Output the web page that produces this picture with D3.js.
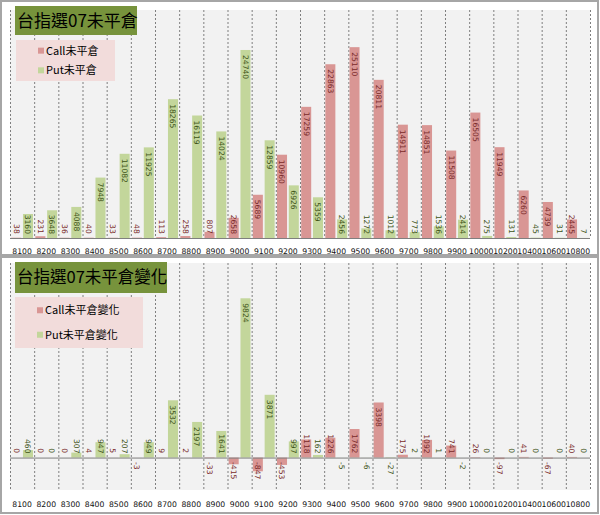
<!DOCTYPE html>
<html><head><meta charset="utf-8">
<script src="https://cdn.jsdelivr.net/npm/d3@7"></script>
<style>body{margin:0;background:#fff}svg{display:block}</style>
</head><body><svg id="c" width="600" height="515"></svg>
<script>
const categories = ["8100","8200","8300","8400","8500","8600","8700","8800","8900","9000","9100","9200","9300","9400","9500","9600","9700","9800","9900","10000","10200","10400","10600","10800"];
const callOI = [38,231,36,40,33,48,113,258,807,2658,5689,10960,17259,22863,25110,20811,14911,14851,11508,16505,11949,6260,4739,2445];
const putOI  = [3160,3648,4088,7948,11082,11925,18265,16119,14024,24740,12859,6926,5359,2456,1272,1012,773,1536,2414,275,131,45,31,7];
const callChg = [0,0,0,4,5,-3,9,2,-33,-415,-847,-453,1118,1226,1762,3398,175,1092,741,26,-97,41,-67,40];
const putChg  = [460,0,307,947,207,949,3532,2197,1641,9824,3871,997,162,-5,-6,-27,2,1,-2,0,0,0,0,0];

const CALL_COLOR = "#d99694", PUT_COLOR = "#c3d69b";
const CALL_TEXT = "#7a2a2a", PUT_TEXT = "#3f5417";
const svg = d3.select("#c");
const FONT = "'DejaVu Sans', Verdana, sans-serif";
const CJK = "'Noto Sans CJK TC', 'Noto Sans CJK SC', sans-serif";

function panel(cfg){
  const g = svg.append("g");
  // outer panel
  g.append("rect").attr("x",cfg.px).attr("y",cfg.py).attr("width",cfg.pw).attr("height",cfg.ph)
    .attr("fill","#fff").attr("stroke","#a6a6a6").attr("stroke-width",2);
  const x0 = d3.scaleBand().domain(categories).range([cfg.left,cfg.right]).padding(0);
  const x1 = d3.scaleBand().domain(["call","put"]).range([0,x0.bandwidth()]).paddingInner(0.15).paddingOuter(0.1);
  const y = d3.scaleLinear().domain(cfg.domain).range([cfg.bottom,cfg.top]);
  // plot bg
  g.append("rect").attr("x",cfg.left).attr("y",cfg.top).attr("width",cfg.right-cfg.left).attr("height",cfg.bottom-cfg.top).attr("fill","#f2f2f2");
  // dashed separators
  const seps = categories.map(c=>x0(c)).concat([cfg.right]);
  g.selectAll("line.sep").data(seps).join("line").attr("class","sep")
    .attr("x1",d=>d+0.5).attr("x2",d=>d+0.5).attr("y1",cfg.top).attr("y2",cfg.bottom)
    .attr("stroke","#7f7f7f").attr("stroke-width",1).attr("stroke-dasharray","2,2");
  const base = y(0);
  const series = [{key:"call",vals:cfg.call,color:CALL_COLOR,tc:CALL_TEXT},{key:"put",vals:cfg.put,color:PUT_COLOR,tc:PUT_TEXT}];
  series.forEach(s=>{
    g.selectAll("rect."+s.key).data(s.vals).join("rect").attr("class",s.key)
      .attr("x",(d,i)=>x0(categories[i])+x1(s.key)).attr("width",x1.bandwidth())
      .attr("y",d=>Math.min(y(d),base)).attr("height",d=>Math.abs(y(d)-base))
      .attr("fill",s.color);
  });
  // baseline
  g.append("line").attr("x1",cfg.left).attr("x2",cfg.right).attr("y1",base+0.5).attr("y2",base+0.5).attr("stroke","#7f7f7f").attr("stroke-width",1);
  // labels
  series.forEach(s=>{
    s.vals.forEach((d,i)=>{
      const cx = x0(categories[i])+x1(s.key)+x1.bandwidth()/2;
      const txt = String(d);
      const len = txt.length*4.7;
      let start;
      if (d>=0){ start = Math.min(y(d)+5, base-4.5-len); }
      else { start = Math.max(y(d)-5-len, base+4.5); }
      g.append("text").attr("transform",`translate(${cx},${start}) rotate(90)`)
        .attr("dy","0.35em").attr("font-family",FONT).attr("font-size",7.6)
        .attr("fill",s.tc).text(txt);
    });
  });
  // x axis labels
  g.selectAll("text.xl").data(categories).join("text").attr("class","xl")
    .attr("x",d=>x0(d)+x0.bandwidth()/2).attr("y",cfg.labelY).attr("text-anchor","middle")
    .attr("dy","0.35em").attr("font-family",FONT).attr("font-size",7.7).attr("fill","#111").text(d=>d);
  // title box
  g.append("rect").attr("x",cfg.tx).attr("y",cfg.ty).attr("width",cfg.tw).attr("height",cfg.th).attr("fill","#77933c");
  g.append("text").attr("x",cfg.tx+2).attr("y",cfg.ty+cfg.th/2).attr("dy","0.36em")
    .attr("font-family",CJK).attr("font-size",cfg.tfs).attr("fill","#000").text(cfg.title);
  // legend box
  g.append("rect").attr("x",cfg.lx).attr("y",cfg.ly).attr("width",cfg.lw).attr("height",cfg.lh).attr("fill","#f2dcdb");
  cfg.legend.forEach((t,i)=>{
    const yy = cfg.ly + cfg.lh*(i===0?0.26:0.74);
    g.append("rect").attr("x",cfg.lx+22).attr("y",yy-3).attr("width",6).attr("height",6).attr("fill",i===0?CALL_COLOR:PUT_COLOR);
    g.append("text").attr("x",cfg.lx+30).attr("y",yy).attr("dy","0.36em").attr("font-family",CJK).attr("font-size",11).attr("fill","#000").text(t);
  });
}

panel({px:1,py:1,pw:597,ph:254,left:10,right:590,top:10,bottom:238,domain:[0,30000],
  call:callOI,put:putOI,labelY:251,
  tx:15,ty:6,tw:122,th:29,tfs:17,title:"台指選07未平倉",
  lx:16,ly:40,lw:99,lh:41,legend:["Call未平倉","Put未平倉"]});
panel({px:1,py:257,pw:597,ph:256,left:10,right:590,top:263,bottom:490,domain:[-2000,12000],
  call:callChg,put:putChg,labelY:504,
  tx:15,ty:262,tw:152,th:31,tfs:16.5,title:"台指選07未平倉變化",
  lx:15,ly:297,lw:128,lh:51,legend:["Call未平倉變化","Put未平倉變化"]});
</script></body></html>
